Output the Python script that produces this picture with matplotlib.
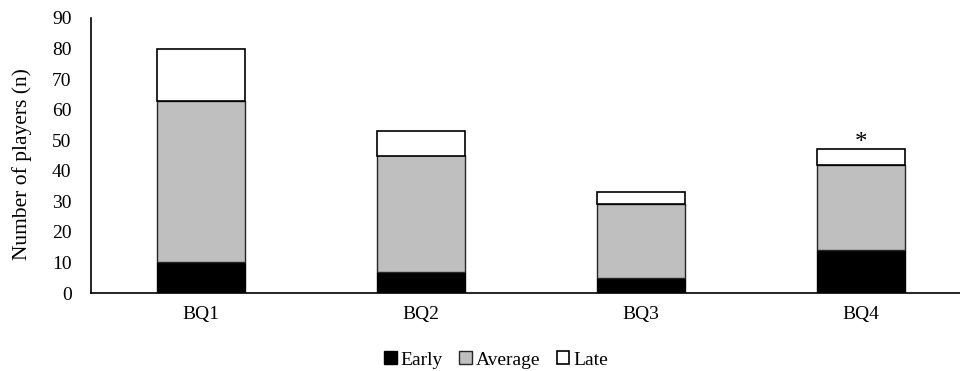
import matplotlib.pyplot as plt
import numpy as np

categories = ['BQ1', 'BQ2', 'BQ3', 'BQ4']
early = [10, 7, 5, 14]
average = [53, 38, 24, 28]
late = [17, 8, 4, 5]

plt.rcParams['font.family'] = ['Liberation Serif', 'DejaVu Serif']

fig = plt.figure(figsize=(9.6, 3.71), dpi=100)
ax = fig.add_axes([91 / 960, 1 - 293 / 371, 880 / 960, 275 / 371])

x = np.arange(len(categories))
early = np.array(early)
average = np.array(average)
late = np.array(late)
w = 0.4
ax.bar(x, early, w, color='black', edgecolor='black', linewidth=1, label='Early')
ax.bar(x, average, w, bottom=early, color='#bfbfbf', edgecolor='#262626', linewidth=1, label='Average')
ax.bar(x, late, w, bottom=early + average, color='white', edgecolor='black', linewidth=1.2, label='Late')

ax.text(3, 49, '*', ha='center', va='center', fontsize=18)

ax.set_xlim(-0.5, 3.5)
ax.set_ylim(0, 90)
ax.set_yticks(range(0, 91, 10))
ax.set_xticks(x)
ax.set_xticklabels(categories)
ax.tick_params(length=0, labelsize=14, pad=9)
ax.tick_params(axis='y', pad=14)
ax.set_ylabel('Number of players (n)', fontsize=15.5, labelpad=14, y=0.47)
for s in ['top', 'right']:
    ax.spines[s].set_visible(False)
for s in ['left', 'bottom']:
    ax.spines[s].set_linewidth(1.2)

fig.legend(loc='center', bbox_to_anchor=(496 / 960, 1 - 360 / 371), ncol=3, frameon=False,
           fontsize=14, handlelength=0.65, handleheight=0.65, handletextpad=0.2,
           columnspacing=0.85)

fig.savefig('out.png', dpi=100)
